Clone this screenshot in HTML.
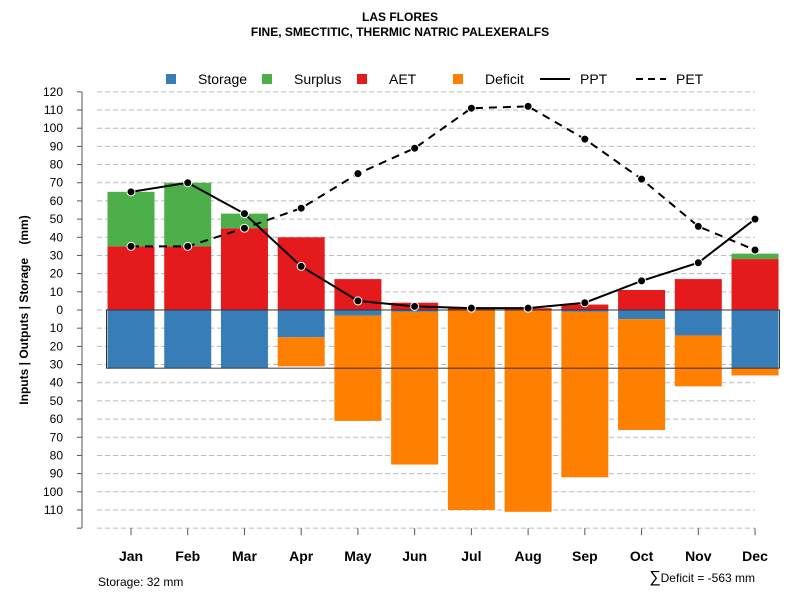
<!DOCTYPE html>
<html><head><meta charset="utf-8"><style>
body{margin:0;background:#fff;}
svg text{font-family:"Liberation Sans",sans-serif;}
</style></head><body>
<svg id="chart" width="800" height="600" xmlns="http://www.w3.org/2000/svg">
<text x="400" y="21" text-anchor="middle" font-size="12" font-weight="bold">LAS FLORES</text>
<text x="400" y="36" text-anchor="middle" font-size="12" font-weight="bold">FINE, SMECTITIC, THERMIC NATRIC PALEXERALFS</text>
<g id="grid"></g><g id="bars"></g><g id="lines"></g><g id="axes"></g>
<g font-size="14">
<rect x="166" y="74" width="10" height="10" fill="#377eb8"/>
<text x="198" y="84">Storage</text>
<rect x="262" y="74" width="10" height="10" fill="#4daf4a"/>
<text x="294" y="84">Surplus</text>
<rect x="357" y="74" width="10" height="10" fill="#e41a1c"/>
<text x="389" y="84">AET</text>
<rect x="453" y="74" width="10" height="10" fill="#ff7f00"/>
<text x="485" y="84">Deficit</text>
<line x1="540" y1="79" x2="570" y2="79" stroke="#000" stroke-width="2"/>
<text x="580" y="84">PPT</text>
<line x1="636" y1="79" x2="666" y2="79" stroke="#000" stroke-width="2" stroke-dasharray="7,5"/>
<text x="676" y="84">PET</text>
</g>
<text transform="translate(28,310) rotate(-90)" text-anchor="middle" font-size="12" font-weight="bold">Inputs | Outputs | Storage&#160;&#160;&#160;&#160;(mm)</text>
<text x="98" y="586" font-size="12">Storage: 32 mm</text>
<text x="755" y="582" text-anchor="end" font-size="12"><tspan font-size="16">∑</tspan>Deficit = -563 mm</text>
</svg>
<script>
const months=["Jan","Feb","Mar","Apr","May","Jun","Jul","Aug","Sep","Oct","Nov","Dec"];
const aet=[35,35,45,40,17,4,1,1,3,11,17,28];
const surplus=[30,35,8,0,0,0,0,0,0,0,0,3];
const storage=[32,32,32,15,3,1,0,0,1,5,14,32];
const deficit=[0,0,0,16,58,84,110,111,91,61,28,4];
const ppt=[65,70,53,24,5,2,1,1,4,16,26,50];
const pet=[35,35,45,56,75,89,111,112,94,72,46,33];
const maxStorage=32;
const yTicks=[120,110,100,90,80,70,60,50,40,30,20,10,0,-10,-20,-30,-40,-50,-60,-70,-80,-90,-100,-110,-120];
const NS="http://www.w3.org/2000/svg";
const y=v=>310-v*1.818;
const x=i=>131+i*56.73;
const bw=47;
function mk(p,tag,at){const e=document.createElementNS(NS,tag);for(const k in at)e.setAttribute(k,at[k]);document.getElementById(p).appendChild(e);return e;}
yTicks.forEach(t=>{
 const g=mk("grid","line",{x1:97,x2:755,y1:y(t),y2:y(t),stroke:"#bbb","stroke-dasharray":"5,3"});
 
 
 const tk=mk("axes","line",{x1:77,x2:82,y1:y(t),y2:y(t),stroke:"#555"});
 
 
 if(t>=-110){const tx=mk("axes","text",{x:63,y:y(t)+4,"text-anchor":"end","font-size":"12"});tx.textContent=Math.abs(t);
 
 }
});
const ax=mk("axes","line",{x1:82,x2:82,y1:y(120),y2:y(-120),stroke:"#555"});


months.forEach((m,i)=>{
 const cx=x(i),l=cx-bw/2;
 const r1=mk("bars","rect",{x:l,y:y(aet[i]),width:bw,height:y(0)-y(aet[i]),fill:"#e41a1c"});
 
 
 if(surplus[i]>0){const r2=mk("bars","rect",{x:l,y:y(aet[i]+surplus[i]),width:bw,height:y(aet[i])-y(aet[i]+surplus[i]),fill:"#4daf4a"});
 
 }
 const r3=mk("bars","rect",{x:l,y:y(0),width:bw,height:y(-storage[i])-y(0),fill:"#377eb8"});
 
 
 const r4=mk("bars","rect",{x:l,y:y(-storage[i]),width:bw,height:y(-storage[i]-deficit[i])-y(-storage[i]),fill:"#ff7f00"});
 
 
 const tk=mk("axes","line",{x1:cx,x2:cx,y1:y(-120),y2:y(-120)+7,stroke:"#555"});
 
 
 const tl=mk("axes","text",{x:cx,y:561,"text-anchor":"middle","font-size":"14","font-weight":"bold"});tl.textContent=m;
 
 
});
const box=mk("bars","rect",{x:x(0)-bw/2-1,y:y(0),width:x(11)-x(0)+bw+2,height:y(-maxStorage)-y(0),fill:"none",stroke:"#333","stroke-width":1});


function series(d,name,dash){
 const pts=d.map((v,i)=>x(i)+","+y(v)).join(" ");
 const pl=mk("lines","polyline",{points:pts,fill:"none",stroke:"#000","stroke-width":2,"stroke-dasharray":dash});
 
 
 d.forEach((v,i)=>{const c=mk("lines","circle",{cx:x(i),cy:y(v),r:4,fill:"#000",stroke:"#fff","stroke-width":1});
 
 });
}
series(pet,"pet","8,6");
series(ppt,"ppt","none");
</script>
</body></html>
